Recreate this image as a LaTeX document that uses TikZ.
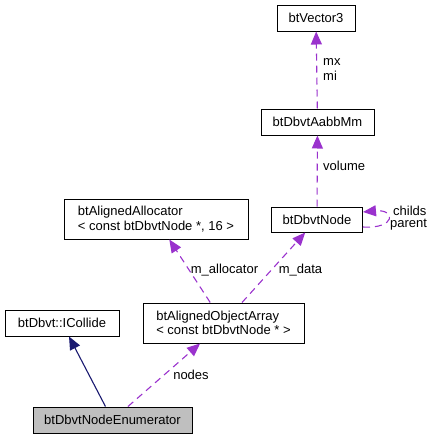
\documentclass[tikz,border=0pt]{standalone}
\usepackage{fontspec}
\setmainfont{Liberation Sans}
\usetikzlibrary{arrows.meta}
\definecolor{edgepurple}{HTML}{9A32CD}
\definecolor{edgenavy}{HTML}{191970}

\begin{document}
\begin{tikzpicture}[x=1pt,y=-1pt,
  cls/.style={draw=black,line width=1pt,inner sep=0,align=left,font=\fontsize{13}{14.5}\selectfont},
  lbl/.style={inner sep=0,align=left,font=\fontsize{13}{14.5}\selectfont},
  dep/.style={-{Triangle[length=13pt,width=11pt]},line width=1.1pt,draw=edgepurple,dash pattern=on 7pt off 5pt},
  inh/.style={-{Triangle[length=13pt,width=11pt]},line width=1.1pt,draw=edgenavy}]
\useasboundingbox (0,0) rectangle (432,439);

% CLASS BOXES
\node[cls,minimum width=78pt,minimum height=26pt] (vec) at (316,18) {btVector3};
\node[cls,minimum width=113pt,minimum height=26pt] (aabb) at (317.5,122) {btDbvtAabbMm};
\node[cls,minimum width=91pt,minimum height=25pt] (dnode) at (317,219.5) {btDbvtNode};
\node[cls,minimum width=184pt,minimum height=40pt] (alloc) at (156,219) {btAlignedAllocator\\< const btDbvtNode *, 16 >};
\node[cls,minimum width=161pt,minimum height=40pt] (objarr) at (223.5,323) {btAlignedObjectArray\\< const btDbvtNode * >};
\node[cls,minimum width=114pt,minimum height=26pt] (icol) at (62,323) {btDbvt::ICollide};
\node[cls,fill=black!25,minimum width=159pt,minimum height=26pt] (enum) at (112.5,420) {btDbvtNodeEnumerator};

% EDGES
\draw[inh] (enum) -- (icol);
\draw[dep] (enum) -- (objarr);
\draw[dep] (objarr) -- (alloc);
\draw[dep] (objarr) -- (dnode);
\draw[dep] (dnode) -- (aabb);
\draw[dep] (aabb) -- (vec);
\draw[dep] ([yshift=-7.5pt]dnode.east) .. controls +(33,2) and +(33,-3) .. ([yshift=7.5pt]dnode.east);

% EDGE LABELS
\node[lbl,anchor=west] (lmx) at (323,69.5) {mx\\mi};
\node[lbl,anchor=west] (lvol) at (323,166) {volume};
\node[lbl,anchor=west] (lchilds) at (393,211) {childs};
\node[lbl,anchor=west] (lparent) at (390,225) {parent};
\node[lbl] (lalloc) at (224.5,270) {m\_allocator};
\node[lbl] (ldata) at (300.5,270) {m\_data};
\node[lbl] (lnodes) at (191,375) {nodes};
\end{tikzpicture}
\end{document}
